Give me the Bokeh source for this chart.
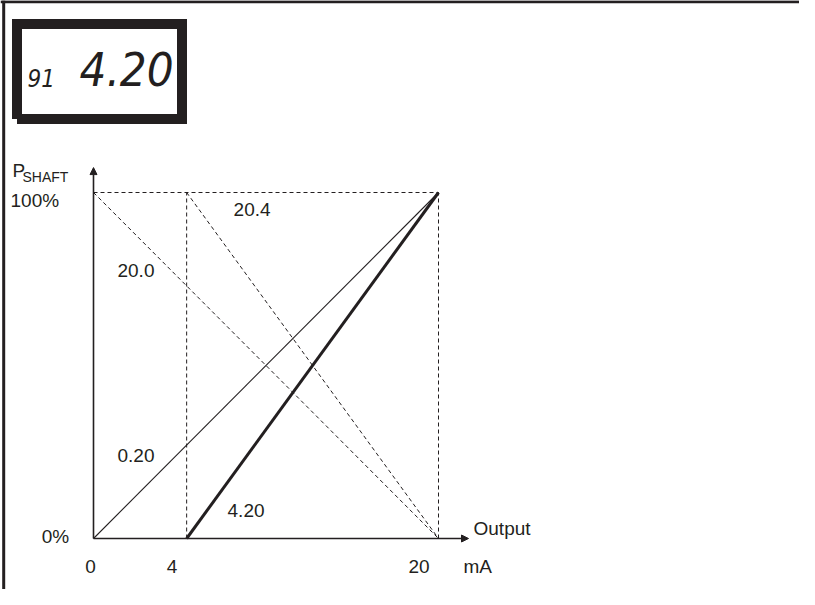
from bokeh.plotting import figure
from bokeh.models import Range1d, Arrow, NormalHead
from bokeh.core.properties import value
from bokeh.embed import file_html
from bokeh.resources import INLINE

# ---- data ----
display_param = "91"
display_value = "4.20"
pct_min, pct_max = 0, 100
ma_min, ma_max = 0, 20
ma_start_drawn = 5.4          # 4 mA start as drawn on the schematic axis
tick_labels = ["0", "4", "20"]
tick_label_x = [-0.17, 4.55, 18.87]
curve_names = ["0.20", "4.20", "20.0", "20.4"]
curve_x0 = [ma_min, ma_start_drawn, ma_min, ma_start_drawn]
curve_x1 = [ma_max, ma_max, ma_max, ma_max]
curve_y0 = [pct_min, pct_min, pct_max, pct_max]
curve_y1 = [pct_max, pct_max, pct_min, pct_min]

INK = "#231f20"
FONT = value("Liberation Sans")
W, H = 799, 589
PXX, PXY = 17.25, 3.46        # pixels per mA, pixels per %
ox, oy = 93, 538               # origin in canvas pixels (from left / top)

x0 = -ox / PXX
x1 = (W - ox) / PXX
y0 = -(H - oy) / PXY
y1 = oy / PXY

p = figure(width=W, height=H, output_backend="svg", toolbar_location=None,
           x_range=Range1d(x0, x1), y_range=Range1d(y0, y1),
           x_axis_location=None, y_axis_location=None, min_border=0)
p.grid.visible = False
p.outline_line_color = None
p.background_fill_color = "white"
p.border_fill_color = "white"

# frame border (top and left)
p.line([x0, x1], [y1 - 1.2 / PXY] * 2, line_color=INK, line_width=3)
p.line([x0 + 3.2 / PXX] * 2, [y0, y1], line_color=INK, line_width=3)

# display box
bx0, bx1 = (16.5 - ox) / PXX, (181.5 - ox) / PXX
by0, by1 = (oy - 118.5) / PXY, (oy - 23.5) / PXY
p.line([bx0, bx1, bx1, bx0, bx0], [by0, by0, by1, by1, by0],
       line_color=INK, line_width=10, line_join="miter")
dfont = value("DejaVu Sans Condensed")
p.text(x=[(27 - ox) / PXX], y=[(oy - 88 + 0.42 * 24) / PXY], text=[display_param],
       text_font=dfont, text_font_size="24px", text_font_style="italic",
       text_color=INK, text_baseline="alphabetic")
p.text(x=[(79 - ox) / PXX], y=[(oy - 88 + 0.42 * 47) / PXY], text=[display_value],
       text_font=dfont, text_font_size="47px", text_font_style="italic",
       text_color=INK, text_baseline="alphabetic")

# dashed guides
p.line([ma_min, ma_max], [pct_max, pct_max], line_color=INK, line_width=1, line_dash="4 3")
p.line([ma_start_drawn, ma_start_drawn], [pct_min, pct_max], line_color=INK, line_width=1, line_dash="4 3")
p.line([ma_max, ma_max], [pct_min, pct_max], line_color=INK, line_width=1, line_dash="4 3")

# curves
styles = {
    "0.20": dict(line_width=1.1),
    "4.20": dict(line_width=3),
    "20.0": dict(line_width=1, line_dash="4 3"),
    "20.4": dict(line_width=1, line_dash="4 3"),
}
for name, a, b, c, d in zip(curve_names, curve_x0, curve_x1, curve_y0, curve_y1):
    p.line([a, b], [c, d], line_color=INK, **styles[name])

# axes with arrows
p.add_layout(Arrow(end=NormalHead(size=7, fill_color=INK, line_color=INK),
                   x_start=ma_min, y_start=pct_min, x_end=ma_min, y_end=107.2,
                   line_color=INK, line_width=1.6))
p.add_layout(Arrow(end=NormalHead(size=7, fill_color=INK, line_color=INK),
                   x_start=ma_min, y_start=pct_min, x_end=21.74, y_end=pct_min,
                   line_color=INK, line_width=1.6))

def txt(x, y, s, size=19, align="left"):
    p.text(x=[x], y=[y + 0.35 * size / PXY], text=[s], text_font=FONT,
           text_font_size=f"{size}px", text_color=INK,
           text_baseline="alphabetic", text_align=align)

# axis texts
txt(-4.70, 104.3, "P")
txt(-4.12, 103.2, "SHAFT", size=14)
txt(-4.81, 95.7, f"{pct_max}%")
txt(-3.00, -1.45, f"{pct_min}%")
for lab, lx in zip(tick_labels, tick_label_x):
    txt(lx, -10.1, lab, align="center")
txt(21.45, -10.1, "mA")
txt(22.03, 0.87, "Output")

# curve labels
label_pos = {"20.4": (8.12, 93.1), "20.0": (1.39, 75.4),
             "0.20": (1.39, 22.0), "4.20": (7.77, 6.07)}
for name in curve_names:
    lx, ly = label_pos[name]
    txt(lx, ly, name)

open("out.html", "w").write(file_html(p, INLINE))
